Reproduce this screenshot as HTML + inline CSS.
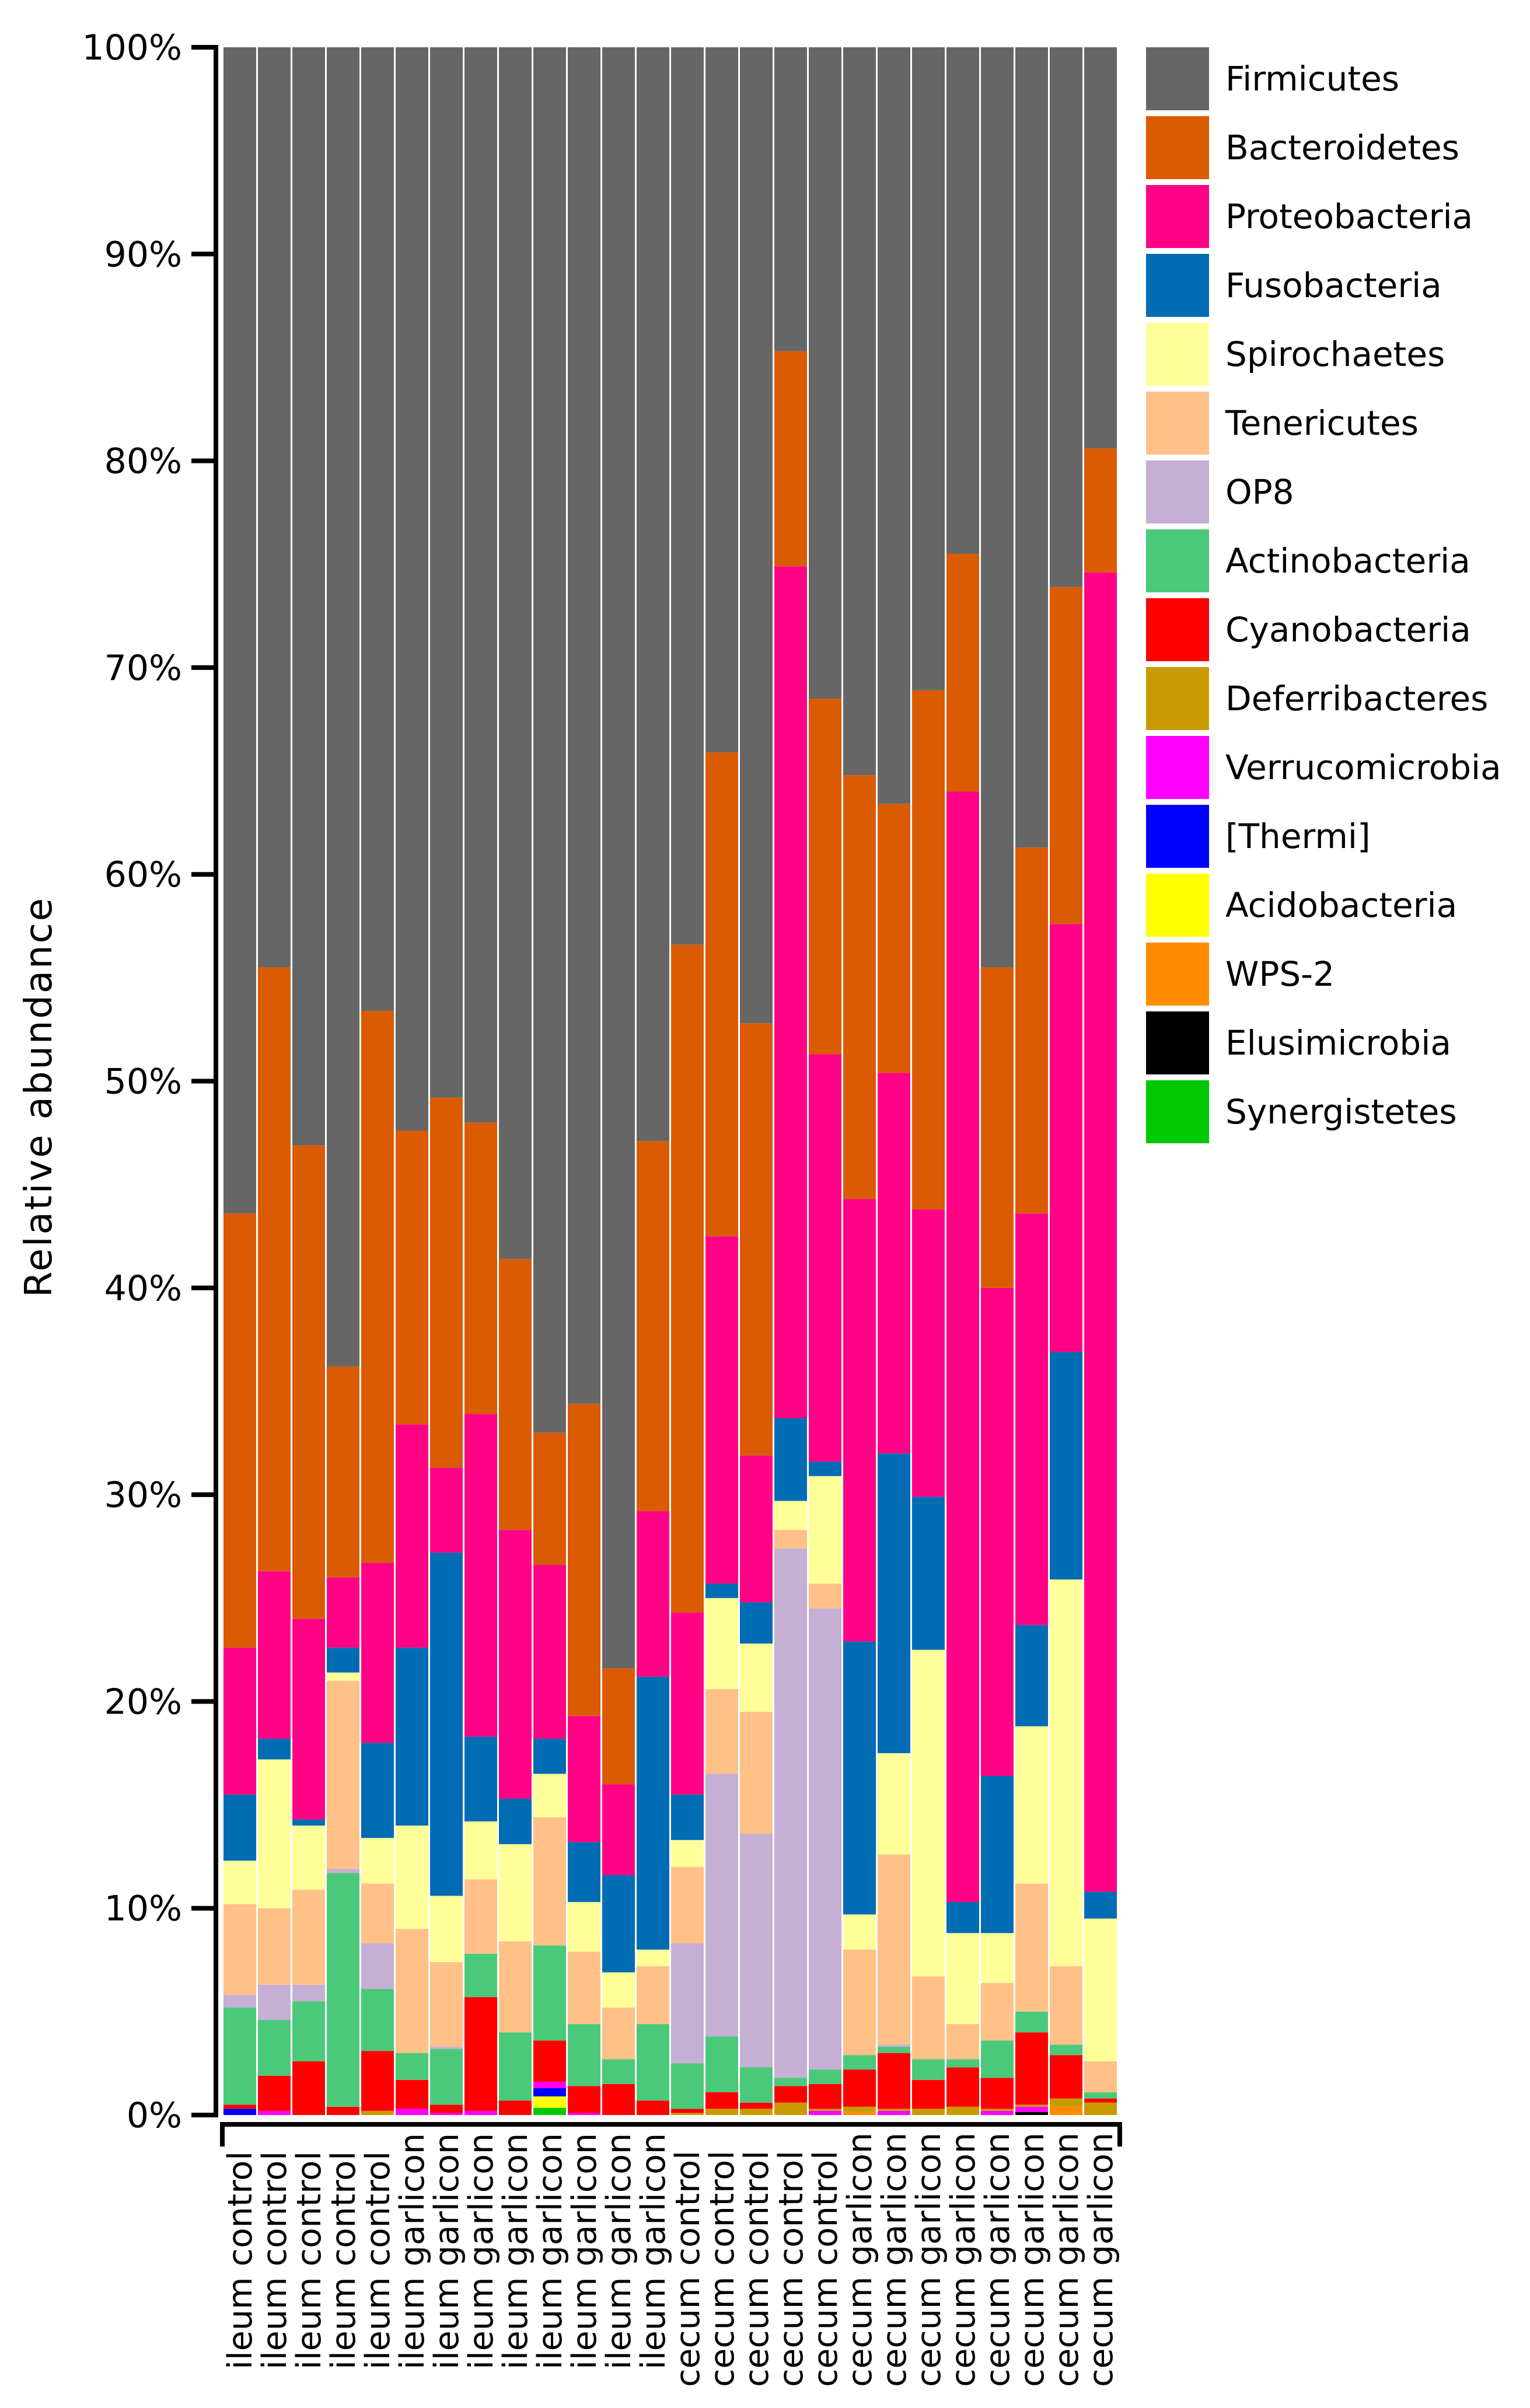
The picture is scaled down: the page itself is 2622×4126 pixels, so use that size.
<!DOCTYPE html>
<html>
<head>
<meta charset="utf-8">
<style>
html,body{margin:0;padding:0;background:#fff;}
svg{display:block;}
text{font-family:"DejaVu Sans","Liberation Sans",sans-serif;fill:#000;}
</style>
</head>
<body>
<svg id="chart" xmlns="http://www.w3.org/2000/svg" width="2622" height="4126" viewBox="0 0 2622 4126">
  <g id="bars"></g>
  <g id="yaxis"></g>
  <g id="xaxis"></g>
  <g id="legend"></g>
  <text x="0" y="0" font-size="64" text-anchor="middle" textLength="684" transform="translate(88,1881) rotate(-90)">Relative abundance</text>
</svg>
<script>
// ---- data (cumulative tops, % of each stacked segment) ----
const categories = ["ileum control","ileum control","ileum control","ileum control","ileum control",
  "ileum garlicon","ileum garlicon","ileum garlicon","ileum garlicon","ileum garlicon","ileum garlicon","ileum garlicon","ileum garlicon",
  "cecum control","cecum control","cecum control","cecum control","cecum control",
  "cecum garlicon","cecum garlicon","cecum garlicon","cecum garlicon","cecum garlicon","cecum garlicon","cecum garlicon","cecum garlicon"];
const synergistetesTop = [0,0,0,0,0,0,0,0,0,0.35,0,0,0,0,0,0,0,0,0,0,0,0,0,0,0,0];
const elusimicrobiaTop = [0,0,0,0,0,0,0,0,0,0.35,0,0,0,0,0,0,0,0,0,0,0,0,0,0.15,0,0];
const wps2Top          = [0,0,0,0,0,0,0,0,0,0.35,0,0,0,0,0,0,0,0,0.15,0,0,0,0,0.15,0.4,0];
const acidobacteriaTop = [0,0,0,0,0,0,0,0,0,0.9,0,0,0,0,0,0,0,0,0.15,0,0,0,0,0.15,0.4,0];
const thermiTop        = [0.3,0,0,0,0,0,0,0,0,1.3,0,0,0,0,0,0,0,0,0.15,0,0,0,0,0.15,0.4,0];
const verrucoTop       = [0.3,0.2,0,0,0,0.3,0.1,0.2,0,1.6,0.1,0,0,0,0,0,0,0.2,0.15,0.2,0,0,0.2,0.4,0.4,0];
const deferriTop       = [0.3,0.2,0,0,0.2,0.3,0.1,0.2,0,1.6,0.1,0,0,0.1,0.3,0.3,0.6,0.3,0.4,0.3,0.3,0.4,0.3,0.5,0.8,0.6];
const cyanoTop   = [0.5,1.9,2.6,0.4,3.1,1.7,0.5,5.7,0.7,3.6,1.4,1.5,0.7,0.3,1.1,0.6,1.4,1.5,2.2,3.0,1.7,2.3,1.8,4.0,2.9,0.8];
const actinoTop  = [5.2,4.6,5.5,11.7,6.1,3.0,3.2,7.8,4.0,8.2,4.4,2.7,4.4,2.5,3.8,2.3,1.8,2.2,2.9,3.3,2.7,2.7,3.6,5.0,3.4,1.1];
const op8Top     = [5.8,6.3,6.3,11.9,8.3,3.0,3.3,7.8,4.0,8.2,4.4,2.7,4.4,8.3,16.5,13.6,27.4,24.5,2.9,3.4,2.7,2.7,3.6,5.0,3.4,1.1];
const teneriTop  = [10.2,10.0,10.9,21.0,11.2,9.0,7.4,11.4,8.4,14.4,7.9,5.2,7.2,12.0,20.6,19.5,28.3,25.7,8.0,12.6,6.7,4.4,6.4,11.2,7.2,2.6];
const spiroTop   = [12.3,17.2,14.0,21.4,13.4,14.0,10.6,14.2,13.1,16.5,10.3,6.9,8.0,13.3,25.0,22.8,29.7,30.9,9.7,17.5,22.5,8.8,8.8,18.8,25.9,9.5];
const fusoTop    = [15.5,18.2,14.3,22.6,18.0,22.6,27.2,18.3,15.3,18.2,13.2,11.6,21.2,15.5,25.7,24.8,33.7,31.6,22.9,32.0,29.9,10.3,16.4,23.7,36.9,10.8];
const proteoTop  = [22.6,26.3,24.0,26.0,26.7,33.4,31.3,33.9,28.3,26.6,19.3,16.0,29.2,24.3,42.5,31.9,74.9,51.3,44.3,50.4,43.8,64.0,40.0,43.6,57.6,74.6];
const bacteroTop = [43.6,55.5,46.9,36.2,53.4,47.6,49.2,48.0,41.4,33.0,34.4,21.6,47.1,56.6,65.9,52.8,85.3,68.5,64.8,63.4,68.9,75.5,55.5,61.3,73.9,80.6];
const firmicutesTop = [100,100,100,100,100,100,100,100,100,100,100,100,100,100,100,100,100,100,100,100,100,100,100,100,100,100];
const yTicks = [0,10,20,30,40,50,60,70,80,90,100];
const yTickLabels = ["0%","10%","20%","30%","40%","50%","60%","70%","80%","90%","100%"];
const legendNames = ["Firmicutes","Bacteroidetes","Proteobacteria","Fusobacteria","Spirochaetes","Tenericutes","OP8","Actinobacteria","Cyanobacteria","Deferribacteres","Verrucomicrobia","[Thermi]","Acidobacteria","WPS-2","Elusimicrobia","Synergistetes"];

const NS = "http://www.w3.org/2000/svg";
const plotTop = 81, plotBottom = 3624, plotLeft = 383, pitch = 59, barW = 56;
function yScale(v){ return plotBottom - (v/100)*(plotBottom-plotTop); }
function xScale(i){ return plotLeft + i*pitch; }
function mk(tag, attrs, parent){ const e=document.createElementNS(NS,tag); for(const k in attrs) e.setAttribute(k,attrs[k]); parent.appendChild(e); return e; }

const colors = {"Firmicutes":"#666666","Bacteroidetes":"#DA5B02","Proteobacteria":"#FF0285","Fusobacteria":"#006CB3","Spirochaetes":"#FFFF99","Tenericutes":"#FFC187","OP8":"#C5AFD5","Actinobacteria":"#4BC97B","Cyanobacteria":"#FF0000","Deferribacteres":"#C99A00","Verrucomicrobia":"#FF00FF","[Thermi]":"#0000FF","Acidobacteria":"#FFFF00","WPS-2":"#FF8C00","Elusimicrobia":"#000000","Synergistetes":"#00C800"};
const stack = [
  ["Synergistetes",synergistetesTop],["Elusimicrobia",elusimicrobiaTop],["WPS-2",wps2Top],["Acidobacteria",acidobacteriaTop],
  ["[Thermi]",thermiTop],["Verrucomicrobia",verrucoTop],["Deferribacteres",deferriTop],["Cyanobacteria",cyanoTop],
  ["Actinobacteria",actinoTop],["OP8",op8Top],["Tenericutes",teneriTop],["Spirochaetes",spiroTop],
  ["Fusobacteria",fusoTop],["Proteobacteria",proteoTop],["Bacteroidetes",bacteroTop],["Firmicutes",firmicutesTop]];

const gb = document.getElementById("bars");
categories.forEach((c,i)=>{
  let prev = 0;
  stack.forEach(([name,arr])=>{
    const top = Math.max(arr[i], prev);
    if (top > prev) {
      const r = mk("rect",{x:xScale(i),y:yScale(top),width:barW,height:yScale(prev)-yScale(top),fill:colors[name]},gb);
      
      
    }
    prev = top;
  });
});

// y axis
const gy = document.getElementById("yaxis");
const yl = mk("line",{x1:370,y1:plotTop,x2:370,y2:plotBottom,stroke:"#000","stroke-width":8},gy);


yTicks.forEach((t,k)=>{
  const y = yScale(t);
  const tk = mk("line",{x1:328,y1:y,x2:374,y2:y,stroke:"#000","stroke-width":8},gy);
  
  
  const tx = mk("text",{x:312,y:y+21,"font-size":60,"text-anchor":"end"},gy);
  tx.textContent = yTickLabels[k];
  
  
});

// x axis bracket
const gx = document.getElementById("xaxis");
const br = mk("path",{d:"M381 3678 L381 3640 L1919 3640 L1919 3678",fill:"none",stroke:"#000","stroke-width":8},gx);


categories.forEach((c,i)=>{
  const cx = xScale(i)+barW/2 + 20;
  const y0 = c.startsWith("cecum") ? 4090 : 4060;
  const t = mk("text",{x:0,y:0,"font-size":57,transform:`translate(${cx},${y0}) rotate(-90)`},gx);
  t.textContent = c;
  
  
});

// legend
const gl = document.getElementById("legend");
legendNames.forEach((n,k)=>{
  const top = 81 + k*118;
  const s = mk("rect",{x:1964,y:top,width:108,height:108,fill:colors[n]},gl);
  
  
  const t = mk("text",{x:2100,y:top+74,"font-size":58},gl);
  t.textContent = n;
  
  
});
</script>
</body>
</html>
